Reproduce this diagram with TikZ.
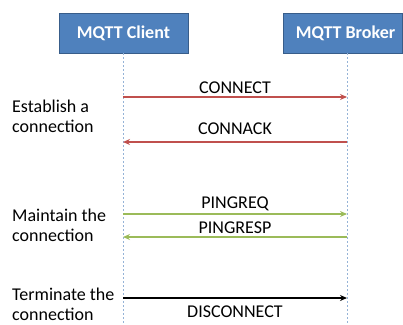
\documentclass[tikz,border=0pt]{standalone}
\usepackage{fontspec}
\setmainfont{Carlito}
\usetikzlibrary{arrows.meta}
\definecolor{boxblue}{HTML}{4F81BD}
\definecolor{boxedge}{HTML}{385D8A}
\definecolor{msgred}{HTML}{C0504D}
\definecolor{msggreen}{HTML}{9BBB59}
\definecolor{lifeblue}{HTML}{95B3D7}
\begin{document}
\begin{tikzpicture}[x=1pt,y=-1pt,
  party/.style={draw=boxedge, fill=boxblue, text=white, font=\fontsize{18}{20}\selectfont\bfseries, minimum height=40pt, inner sep=0pt},
  life/.style={lifeblue, dashed, dash pattern=on 2pt off 2pt, line width=0.8pt},
  msg/.style={line width=1.4pt, -{Stealth[length=7pt,width=6pt]}},
  msgtext/.style={font=\fontsize{18}{20}\selectfont, inner sep=0pt, anchor=base, black},
  phase/.style={font=\fontsize{18}{20}\selectfont, align=left, anchor=base west, inner sep=0pt}]
\useasboundingbox (0,0) rectangle (403,324);

\node[party, minimum width=129pt] (client) at (123.5,33) {MQTT Client};
\node[party, minimum width=119pt] (broker) at (342.5,33) {\hspace*{6pt}MQTT Broker};
\coordinate (ctop) at (123,53);  \coordinate (cend) at (123,324);
\coordinate (btop) at (347,53);  \coordinate (bend) at (347,324);
\draw[life] (ctop) -- (cend);
\draw[life] (btop) -- (bend);

% messages
\coordinate (c1) at (123,97);  \coordinate (b1) at (347,97);
\coordinate (c2) at (123,142); \coordinate (b2) at (347,142);
\coordinate (c3) at (123,214); \coordinate (b3) at (347,214);
\coordinate (c4) at (123,237); \coordinate (b4) at (347,237);
\coordinate (c5) at (123,298); \coordinate (b5) at (347,298);

\draw[msg, msgred] (c1) -- (b1) node[msgtext, midway, yshift=4pt] {CONNECT};
\draw[msg, msgred] (b2) -- (c2) node[msgtext, midway, yshift=8pt] {CONNACK};
\draw[msg, msggreen] (c3) -- (b3) node[msgtext, midway, yshift=6pt] {PINGREQ};
\draw[msg, msggreen] (b4) -- (c4) node[msgtext, midway, yshift=4pt] {PINGRESP};
\draw[msg, black] (c5) -- (b5) node[msgtext, midway, yshift=-19pt] {DISCONNECT};

% phases
\node[phase] (est) at (12,132) {Establish a\\connection};
\node[phase] (mnt) at (12,241) {Maintain the\\connection};
\node[phase] (trm) at (12,320) {Terminate the\\connection};
\end{tikzpicture}
\end{document}
